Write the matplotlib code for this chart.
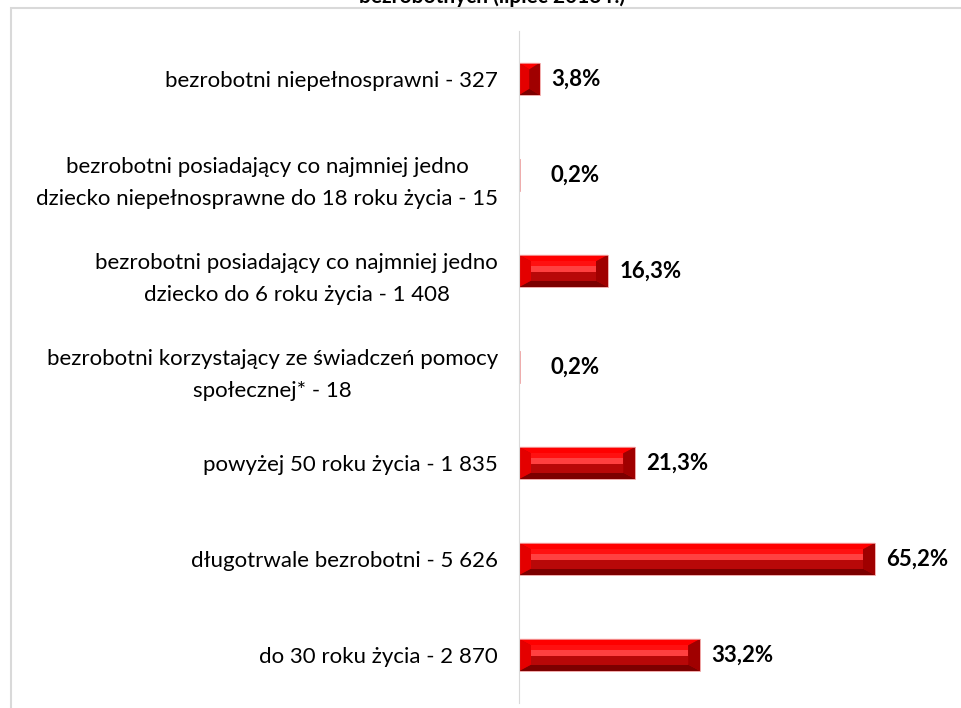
import numpy as np
import matplotlib.pyplot as plt
from matplotlib.patches import Polygon, Rectangle

plt.rcParams['font.family'] = ['Lato', 'DejaVu Sans']

labels = ['bezrobotni niepełnosprawni - 327',
          'bezrobotni posiadający co najmniej jedno\ndziecko niepełnosprawne do 18 roku życia - 15',
          'bezrobotni posiadający co najmniej jedno\ndziecko do 6 roku życia - 1 408',
          'bezrobotni korzystający ze świadczeń pomocy\nspołecznej* - 18',
          'powyżej 50 roku życia - 1 835',
          'długotrwale bezrobotni - 5 626',
          'do 30 roku życia - 2 870']
values = [3.8, 0.2, 16.3, 0.2, 21.3, 65.2, 33.2]
value_text = ['3,8%', '0,2%', '16,3%', '0,2%', '21,3%', '65,2%', '33,2%']
title = 'bezrobotnych (lipiec 2013 r.)'

W, H = 962, 708
fig = plt.figure(figsize=(W / 100, H / 100), dpi=100)

# outer chart frame (cropped on right and bottom)
fig.patches.append(Rectangle((11 / W, -0.05), 1.2, 1 - 8 / H + 0.05,
                             transform=fig.transFigure, fill=False,
                             edgecolor='#d9d9d9', lw=1.5))
# title, cut off at the top like in the source image
fig.text(492 / W, 1.0 + 3 / H, title, ha='center', va='center',
         fontsize=15, fontweight='bold')

ax = fig.add_axes([519 / W, 5 / H, (W - 519) / W, 672 / H])
ys = np.arange(len(values))
ax.set_ylim(len(values) - 0.5, -0.5)
ax.set_xlim(0, (W - 519) / 5.46)

h = 0.335
bev_x = 2.2
# (start, end, colour) bands of the bar face, as fractions of bar height
bands = [(0.20, 0.36, '#ff1010'), (0.36, 0.52, '#ff4040'),
         (0.52, 0.80, '#b80808')]
for y, v in zip(ys, values):
    b = min(bev_x, v / 2)
    top, bot = y - h / 2, y + h / 2
    bt, bb = top + h * 0.2, bot - h * 0.2
    ax.add_patch(Polygon([(0, top), (v, top), (v, bot), (0, bot)],
                         closed=True, fc='#c40000', ec='none'))
    ax.add_patch(Polygon([(0, top), (v, top), (v - b, bt), (b, bt)],
                         closed=True, fc='#ff0000', ec='none'))
    ax.add_patch(Polygon([(0, bot), (v, bot), (v - b, bb), (b, bb)],
                         closed=True, fc='#7c0000', ec='none'))
    ax.add_patch(Polygon([(0, top), (b, bt), (b, bb), (0, bot)],
                         closed=True, fc='#e40000', ec='none'))
    ax.add_patch(Polygon([(v, top), (v - b, bt), (v - b, bb), (v, bot)],
                         closed=True, fc='#a00000', ec='none'))
    for f0, f1, c in bands:
        y0, y1 = top + h * f0, top + h * f1
        ax.add_patch(Polygon([(b, y0), (v - b, y0), (v - b, y1), (b, y1)],
                             closed=True, fc=c, ec='none'))
    ax.add_patch(Rectangle((0, top), v, h, fill=False, ec='#f0a0a0', lw=0.6))

for y, v, t in zip(ys, values, value_text):
    ax.annotate(t, (max(v, 3.8), y), xytext=(8, 0), textcoords='offset points',
                ha='left', va='center', fontsize=16, fontweight='bold')

ax.set_yticks(ys)
ax.set_yticklabels(labels, fontsize=16, multialignment='center',
                   linespacing=1.75)
ax.tick_params(axis='y', length=0, pad=15)
ax.set_xticks([])
for s in ['top', 'right', 'bottom']:
    ax.spines[s].set_visible(False)
ax.spines['left'].set_color('#d9d9d9')
ax.patch.set_alpha(0)

fig.savefig('out.png', dpi=100)
